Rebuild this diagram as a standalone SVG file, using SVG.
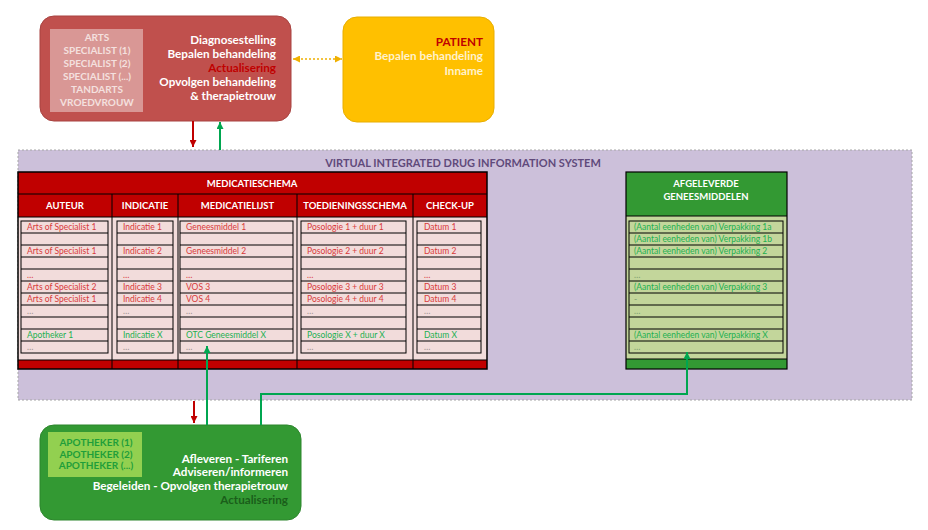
<svg xmlns="http://www.w3.org/2000/svg" width="928" height="530" viewBox="0 0 928 530">
<defs>
<style>
text{font-family:Lato,"Liberation Sans",sans-serif}
.b{font-weight:bold}
.w{fill:#ffffff}
.cell{fill:none;stroke:#000;stroke-width:1}
.rt{font-size:8.5px;fill:#d83a3a}
.gt{font-size:8.5px;fill:#22b050}
.dm{font-size:8.5px;fill:#a09090}
.dg{font-size:8.5px;fill:#80a070}
.hd{font-size:9.5px;font-weight:bold;fill:#fff;text-anchor:middle}
.big{font-size:11.7px;font-weight:bold;text-anchor:end}
</style>
<marker id="ar" viewBox="0 0 10 10" refX="10" refY="5" markerWidth="7" markerHeight="7" markerUnits="userSpaceOnUse" orient="auto"><path d="M0,0 L10,5 L0,10 z" fill="#c00000"/></marker>
<marker id="ag" viewBox="0 0 10 10" refX="10" refY="5" markerWidth="7" markerHeight="7" markerUnits="userSpaceOnUse" orient="auto"><path d="M0,0 L10,5 L0,10 z" fill="#00a650"/></marker>
<marker id="ao" viewBox="0 0 10 10" refX="10" refY="5" markerWidth="7" markerHeight="7" markerUnits="userSpaceOnUse" orient="auto-start-reverse"><path d="M0,0 L10,5 L0,10 z" fill="#f0b000"/></marker>
</defs>

<g id="system">
<rect x="18" y="150" width="894" height="250" fill="#ccc0da" stroke="#a6a6a6" stroke-width="1" stroke-dasharray="2,2"/>
<text x="463" y="166.5" text-anchor="middle" class="b" font-size="11" fill="#604a7b">VIRTUAL INTEGRATED DRUG INFORMATION SYSTEM</text>
</g>

<g id="arts">
<rect x="40" y="16" width="251" height="105" rx="14" fill="#c0504d" stroke="#a84340" stroke-width="1"/>
<rect x="50" y="29" width="93" height="83" fill="#d99795"/>
<g class="b" font-size="10" fill="#f4e0df" text-anchor="middle">
<text x="97" y="41">ARTS</text>
<text x="97" y="54">SPECIALIST (1)</text>
<text x="97" y="67">SPECIALIST (2)</text>
<text x="97" y="80">SPECIALIST (...)</text>
<text x="97" y="93">TANDARTS</text>
<text x="97" y="106">VROEDVROUW</text>
</g>
<text x="276" y="44" class="big w">Diagnosestelling</text>
<text x="276" y="58" class="big w">Bepalen behandeling</text>
<text x="276" y="72" class="big" fill="#c00000">Actualisering</text>
<text x="276" y="86" class="big w">Opvolgen behandeling</text>
<text x="276" y="100" class="big w">&amp; therapietrouw</text>
</g>

<g id="patient">
<rect x="343" y="17" width="151" height="105" rx="14" fill="#ffc000" stroke="#e8ae00" stroke-width="1"/>
<text x="483" y="45.5" class="big" font-size="10.6" fill="#c00000">PATIENT</text>
<text x="483" y="60" class="big" font-size="10.6" fill="#fff2cc">Bepalen behandeling</text>
<text x="483" y="74.5" class="big" font-size="10.6" fill="#fff2cc">Inname</text>
</g>

<g id="medicatieschema">
<rect x="18" y="172" width="469" height="197" fill="#f2dcdb"/>
<rect x="18" y="172" width="469" height="45" fill="#c00000"/>
<rect x="18" y="360" width="469" height="9" fill="#c00000"/>
<path d="M18,194 H487 M18,217 H487 M18,360 H487 M112,194 V369 M178,194 V369 M297,194 V369 M413,194 V369" stroke="#000" stroke-width="1" fill="none"/>
<rect x="18" y="172" width="469" height="197" fill="none" stroke="#000" stroke-width="1.5"/>
<text x="252" y="187" class="hd">MEDICATIESCHEMA</text>
<text x="65" y="209" class="hd">AUTEUR</text>
<text x="145" y="209" class="hd">INDICATIE</text>
<text x="237.5" y="209" class="hd">MEDICATIELIJST</text>
<text x="355" y="209" class="hd">TOEDIENINGSSCHEMA</text>
<text x="450" y="209" class="hd">CHECK-UP</text>
<g>
<rect x="21" y="221" width="87" height="132" class="cell"/>
<rect x="117" y="221" width="56" height="132" class="cell"/>
<rect x="180" y="221" width="113" height="132" class="cell"/>
<rect x="301" y="221" width="105" height="132" class="cell"/>
<rect x="417" y="221" width="64" height="132" class="cell"/>
<path d="M21,233H108M21,245H108M21,257H108M21,269H108M21,281H108M21,293H108M21,305H108M21,317H108M21,329H108M21,341H108
M117,233H173M117,245H173M117,257H173M117,269H173M117,281H173M117,293H173M117,305H173M117,317H173M117,329H173M117,341H173
M180,233H293M180,245H293M180,257H293M180,269H293M180,281H293M180,293H293M180,305H293M180,317H293M180,329H293M180,341H293
M301,233H406M301,245H406M301,257H406M301,269H406M301,281H406M301,293H406M301,305H406M301,317H406M301,329H406M301,341H406
M417,233H481M417,245H481M417,257H481M417,269H481M417,281H481M417,293H481M417,305H481M417,317H481M417,329H481M417,341H481" class="cell"/>
</g>
<g class="rt">
<text x="27" y="230">Arts of Specialist 1</text><text x="123" y="230">Indicatie  1</text><text x="186" y="230">Geneesmiddel 1</text><text x="307" y="230">Posologie 1 + duur 1</text><text x="424" y="230">Datum 1</text>
<text x="27" y="254">Arts of Specialist 1</text><text x="123" y="254">Indicatie  2</text><text x="186" y="254">Geneesmiddel 2</text><text x="307" y="254">Posologie 2 + duur 2</text><text x="424" y="254">Datum 2</text>
<text x="27" y="278">…</text><text x="123" y="278">…</text><text x="186" y="278">…</text><text x="307" y="278">…</text><text x="424" y="278">…</text>
<text x="27" y="290">Arts of Specialist 2</text><text x="123" y="290">Indicatie  3</text><text x="186" y="290">VOS 3</text><text x="307" y="290">Posologie 3 + duur 3</text><text x="424" y="290">Datum 3</text>
<text x="27" y="302">Arts of Specialist 1</text><text x="123" y="302">Indicatie  4</text><text x="186" y="302">VOS 4</text><text x="307" y="302">Posologie 4 + duur 4</text><text x="424" y="302">Datum 4</text>
</g>
<g class="dm">
<text x="27" y="314">…</text><text x="123" y="314">…</text><text x="186" y="314">…</text><text x="307" y="314">…</text><text x="424" y="314">…</text>
<text x="27" y="350">…</text><text x="123" y="350">…</text><text x="186" y="350">…</text><text x="307" y="350">…</text><text x="424" y="350">…</text>
</g>
<g class="gt">
<text x="27" y="338">Apotheker 1</text><text x="123" y="338">Indicatie  X</text><text x="186" y="338">OTC Geneesmiddel X</text><text x="307" y="338">Posologie X + duur X</text><text x="424" y="338">Datum X</text>
</g>
</g>

<g id="afgeleverde">
<rect x="626" y="172" width="161" height="197" fill="#c3d69b"/>
<rect x="626" y="172" width="161" height="44" fill="#339933"/>
<rect x="626" y="359" width="161" height="10" fill="#339933"/>
<path d="M626,216 H787 M626,359 H787" stroke="#000" stroke-width="1"/>
<rect x="626" y="172" width="161" height="197" fill="none" stroke="#000" stroke-width="1.2"/>
<text x="706" y="187" class="hd">AFGELEVERDE</text>
<text x="706" y="200" class="hd">GENEESMIDDELEN</text>
<rect x="629" y="221" width="154" height="132" class="cell"/>
<path d="M629,233H783M629,245H783M629,257H783M629,269H783M629,281H783M629,293H783M629,305H783M629,317H783M629,329H783M629,341H783" class="cell"/>
<g class="gt">
<text x="634" y="230">(Aantal eenheden van) Verpakking 1a</text>
<text x="634" y="242">(Aantal eenheden van) Verpakking 1b</text>
<text x="634" y="254">(Aantal eenheden van) Verpakking 2</text>
<text x="634" y="290">(Aantal eenheden van) Verpakking 3</text>
<text x="634" y="338">(Aantal eenheden van) Verpakking X</text>
</g>
<g class="dg">
<text x="634" y="278">…</text>
<text x="634" y="302">-</text>
<text x="634" y="314">…</text>
<text x="634" y="350">…</text>
</g>
</g>

<g id="apotheker">
<rect x="40" y="425" width="261" height="95" rx="14" fill="#339933" stroke="#2d862d" stroke-width="1"/>
<rect x="48" y="432" width="94" height="45" fill="#92d050"/>
<g class="b" font-size="10" fill="#1f9e3a" text-anchor="middle">
<text x="96" y="446">APOTHEKER (1)</text>
<text x="96" y="457.5">APOTHEKER (2)</text>
<text x="96" y="469">APOTHEKER (...)</text>
</g>
<text x="288" y="463" class="big w" font-size="10.5">Afleveren - Tariferen</text>
<text x="288" y="476" class="big w" font-size="10.5">Adviseren/informeren</text>
<text x="288" y="490" class="big w" font-size="10.5">Begeleiden - Opvolgen therapietrouw</text>
<text x="288" y="504" class="big" font-size="10.5" fill="#1a5e1a">Actualisering</text>
</g>

<g id="connectors" fill="none" stroke-width="2">
<line x1="193" y1="121" x2="193" y2="147" stroke="#c00000" marker-end="url(#ar)"/>
<line x1="220" y1="150" x2="220" y2="122" stroke="#00a650" marker-end="url(#ag)"/>
<line x1="293" y1="59" x2="342" y2="59" stroke="#f0b000" stroke-width="1.5" stroke-dasharray="2,2" marker-start="url(#ao)" marker-end="url(#ao)"/>
<line x1="194" y1="401" x2="194" y2="423" stroke="#c00000" marker-end="url(#ar)"/>
<line x1="207" y1="425" x2="207" y2="346" stroke="#00a650" marker-end="url(#ag)"/>
<path d="M261,425 V394 H687 V352" stroke="#00a650" marker-end="url(#ag)"/>
</g>
</svg>
